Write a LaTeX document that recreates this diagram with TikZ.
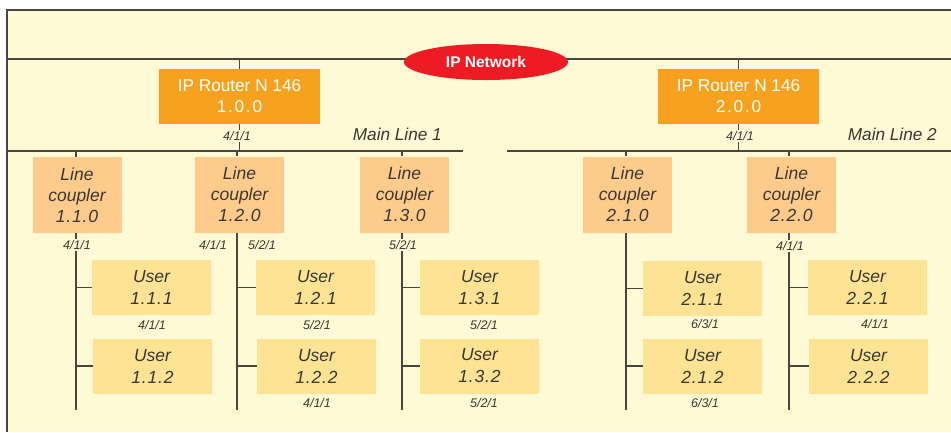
\documentclass[tikz,border=0pt]{standalone}
\usepackage{fontspec}
\setmainfont{Liberation Sans}
\usetikzlibrary{shapes.geometric}
\definecolor{cream}{HTML}{FFFAD6}
\definecolor{router}{HTML}{F7A21E}
\definecolor{coupler}{HTML}{FDCB8B}
\definecolor{userc}{HTML}{FDE393}
\definecolor{netred}{HTML}{ED1C24}
\definecolor{ink}{HTML}{3A3632}
\definecolor{wire}{HTML}{4A4540}
\newcommand{\dd}{\kern0.8pt.\kern0.8pt}
\newcommand{\rd}{\kern1.8pt.\kern1.8pt}
\tikzset{
  wirel/.style={draw=wire, line width=1.3pt},
  routerbox/.style={fill=router, text=white, minimum width=161pt, minimum height=55pt, inner sep=0pt, align=center, font=\fontsize{17.2}{21}\selectfont},
  couplerbox/.style={fill=coupler, text=ink, minimum width=89pt, minimum height=76pt, inner sep=0pt, align=center, font=\fontsize{17.5}{21}\selectfont\itshape},
  userbox/.style={fill=userc, text=ink, minimum width=119pt, minimum height=55pt, inner sep=0pt, align=center, font=\fontsize{17.5}{22}\selectfont\itshape},
  addr/.style={text=ink, inner sep=1pt, font=\fontsize{12.5}{13}\selectfont\itshape},
  addrbg/.style={addr, fill=cream},
  linename/.style={text=ink, inner sep=0pt, anchor=east, font=\fontsize{17.2}{20}\selectfont\itshape},
  netnode/.style={ellipse, fill=netred, text=white, minimum width=164pt, minimum height=36pt, inner sep=0pt, font=\fontsize{15.5}{18}\selectfont\bfseries}
}
\begin{document}
\begin{tikzpicture}[x=1pt, y=-1pt]
\useasboundingbox (0,0) rectangle (951,432);
% frame
\coordinate (fTL) at (7,10);
\coordinate (fTR) at (951,10);
\coordinate (fBL) at (7,432);
\coordinate (fBR) at (951,432);
\fill[cream] (fTL) rectangle (fBR);
\draw[wirel, line width=2pt] (fBL) -- (fTL) -- (fTR);
% lines
\coordinate (nL) at (7,59);
\coordinate (nR) at (951,59);
\coordinate (m1L) at (7,151);
\coordinate (m1R) at (463,151);
\coordinate (m2L) at (507,151);
\coordinate (m2R) at (951,151);
\draw[wirel] (nL) -- (nR);
\draw[wirel] (m1L) -- (m1R);
\draw[wirel] (m2L) -- (m2R);
% routers
\node[routerbox] (r1) at (239.5,96.5) {IP Router N 146\\1\rd0\rd0};
\node[routerbox] (r2) at (738.5,96.5) {IP Router N 146\\2\rd0\rd0};
\draw[wirel] (r1.north |- nL) -- (r1.north);
\draw[wirel] (r2.north |- nL) -- (r2.north);
\draw[wirel] (r1.south) -- (r1.south |- m1L);
\draw[wirel] (r2.south) -- (r2.south |- m2L);
\node[addrbg] (r1a) at (237,136) {4/1/1};
\node[addrbg] (r2a) at (740,136) {4/1/1};
\node[linename] (ml1) at (442,134) {Main Line 1};
\node[linename] (ml2) at (937,134) {Main Line 2};
% network ellipse
\node[netnode] (net) at (486,62) {IP Network};
% couplers
\node[couplerbox] (c11) at (77,195) {Line\\coupler\\1\dd1\dd0};
\node[couplerbox] (c12) at (239.5,194.5) {Line\\coupler\\1\dd2\dd0};
\node[couplerbox] (c13) at (404.5,194.5) {Line\\coupler\\1\dd3\dd0};
\node[couplerbox] (c21) at (627.5,194.5) {Line\\coupler\\2\dd1\dd0};
\node[couplerbox] (c22) at (791.5,194.5) {Line\\coupler\\2\dd2\dd0};
\coordinate (c11b) at (76,410);
\coordinate (c12b) at (237,410);
\coordinate (c13b) at (402,410);
\coordinate (c21b) at (626,410);
\coordinate (c22b) at (789,410);
\foreach \c in {c11,c12,c13,c21,c22}{
  \draw[wirel] (\c b |- m1L) -- (\c b |- \c.north);
  \draw[wirel] (\c b |- \c.south) -- (\c b);
}
\node[addrbg] (c11a) at (77,245) {4/1/1};
\node[addr] (c12a) at (213,245) {4/1/1};
\node[addr] (c12c) at (262,245) {5/2/1};
\node[addrbg] (c13a) at (403,245) {5/2/1};
\node[addrbg] (c22a) at (790,246) {4/1/1};
% users
\node[userbox] (u111) at (151.5,287.5) {User\\1\dd1\dd1};
\node[userbox] (u112) at (152.5,366) {User\\1\dd1\dd2};
\node[userbox] (u121) at (315.5,287.5) {User\\1\dd2\dd1};
\node[userbox] (u122) at (316.5,366) {User\\1\dd2\dd2};
\node[userbox] (u131) at (479.5,287.5) {User\\1\dd3\dd1};
\node[userbox] (u132) at (479.5,366) {User\\1\dd3\dd2};
\node[userbox] (u211) at (702.5,288.5) {User\\2\dd1\dd1};
\node[userbox] (u212) at (702.5,366) {User\\2\dd1\dd2};
\node[userbox] (u221) at (867.5,287.5) {User\\2\dd2\dd1};
\node[userbox] (u222) at (868.5,366) {User\\2\dd2\dd2};
\draw[wirel] (c11b |- u111.west) -- (u111.west);
\draw[wirel] (c11b |- u112.west) -- (u112.west);
\draw[wirel] (c12b |- u121.west) -- (u121.west);
\draw[wirel] (c12b |- u122.west) -- (u122.west);
\draw[wirel] (c13b |- u131.west) -- (u131.west);
\draw[wirel] (c13b |- u132.west) -- (u132.west);
\draw[wirel] (c21b |- u211.west) -- (u211.west);
\draw[wirel] (c21b |- u212.west) -- (u212.west);
\draw[wirel] (c22b |- u221.west) -- (u221.west);
\draw[wirel] (c22b |- u222.west) -- (u222.west);
\node[addr] (u111a) at (152,325) {4/1/1};
\node[addr] (u121a) at (317,325) {5/2/1};
\node[addr] (u131a) at (484,325) {5/2/1};
\node[addr] (u211a) at (705,324) {6/3/1};
\node[addr] (u221a) at (875,324) {4/1/1};
\node[addr] (u122a) at (317,403) {4/1/1};
\node[addr] (u132a) at (484,403) {5/2/1};
\node[addr] (u212a) at (705,403) {6/3/1};
\end{tikzpicture}
\end{document}
